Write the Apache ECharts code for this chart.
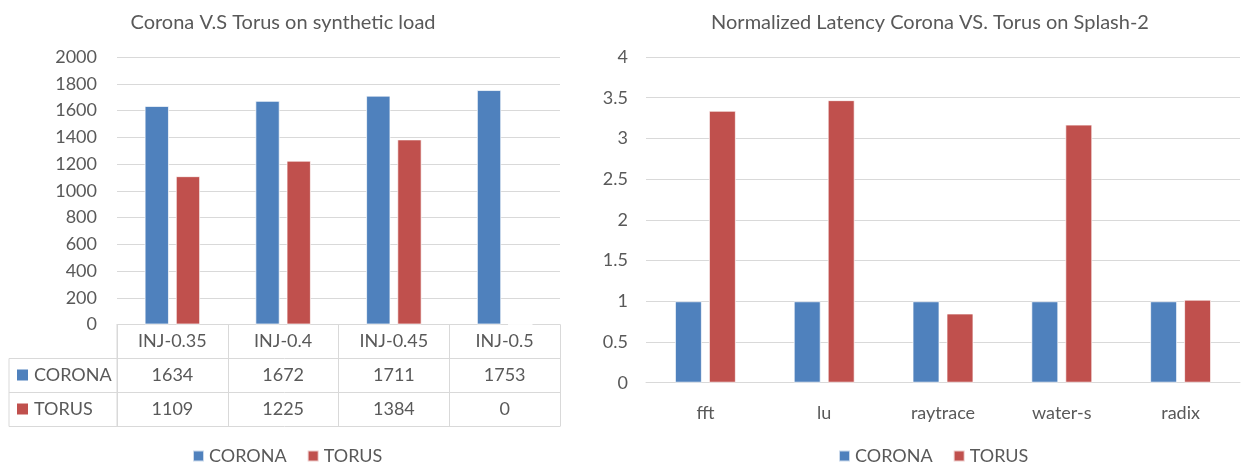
<!DOCTYPE html>
<html><head><meta charset="utf-8">
<script src="https://cdn.jsdelivr.net/npm/echarts@6/dist/echarts.min.js"></script>
<style>html,body{margin:0;padding:0;background:#fff}#c{width:1245px;height:463px}</style>
</head><body><div id="c"></div>
<script>
// ---- data ----
const seriesNames = ['CORONA', 'TORUS'];
const synthCategories = ['INJ-0.35', 'INJ-0.4', 'INJ-0.45', 'INJ-0.5'];
const synthCorona = [1634, 1672, 1711, 1753];
const synthTorus = [1109, 1225, 1384, 0];
const synthTicks = [0, 200, 400, 600, 800, 1000, 1200, 1400, 1600, 1800, 2000];
const splashCategories = ['fft', 'lu', 'raytrace', 'water-s', 'radix'];
const splashCorona = [1, 1, 1, 1, 1];
const splashTorus = [3.34, 3.47, 0.85, 3.17, 1.02];
const splashTicks = [0, 0.5, 1, 1.5, 2, 2.5, 3, 3.5, 4];
const titles = ['Corona V.S Torus on synthetic load', 'Normalized Latency Corona VS. Torus on Splash-2'];

// ---- style / layout ----
const BLUE = '#4F81BD', RED = '#C0504D', TXT = '#595959', GRID = '#D9D9D9';
const FONT = 'Lato';
const g0 = {left: 117, right: 560, top: 57, bottom: 324.5};
const g1 = {left: 646, right: 1240, top: 57, bottom: 382.7};
const rowH = 34, tableLeft = 9;

const chart = echarts.init(document.getElementById('c'), null, {renderer: 'canvas'});

const barStyle = c => ({color: c, borderColor: 'rgba(255,255,255,0.7)', borderWidth: 1});
const axisLabel = {color: TXT, fontFamily: FONT, fontSize: 18};

// table graphics (lines + row headers)
const graphics = [];
const lineStyle = {stroke: GRID, lineWidth: 1};
for (let r = 1; r <= 3; r++) {
  const y = g0.bottom + r * rowH;
  graphics.push({type: 'line', shape: {x1: tableLeft, y1: y, x2: g0.right, y2: y}, style: lineStyle, silent: true});
}
graphics.push({type: 'line', shape: {x1: tableLeft, y1: g0.bottom + rowH, x2: tableLeft, y2: g0.bottom + 3 * rowH}, style: lineStyle, silent: true});
graphics.push({type: 'line', shape: {x1: g0.left, y1: g0.bottom, x2: g0.left, y2: g0.bottom + 3 * rowH}, style: lineStyle, silent: true});
[BLUE, RED].forEach((c, i) => {
  const cy = g0.bottom + rowH * (i + 1.5);
  graphics.push({type: 'rect', shape: {x: 17, y: cy - 6, width: 11, height: 11}, style: {fill: c}, silent: true});
  graphics.push({type: 'text', x: 34, y: cy, style: {text: seriesNames[i], fill: TXT, font: '18px ' + FONT, textVerticalAlign: 'middle', textAlign: 'left'}, silent: true});
});

const titleStyle = {color: TXT, fontFamily: FONT, fontSize: 20, fontWeight: 'normal'};
const legendBase = {data: seriesNames, top: 442, itemWidth: 11, itemHeight: 11, itemGap: 20, itemTextGap: 6,
  icon: 'rect', textStyle: {color: TXT, fontFamily: FONT, fontSize: 18}};

const option = {
  animation: false,
  textStyle: {fontFamily: FONT},
  title: [
    {text: titles[0], left: 278, top: 8, textAlign: 'center', textStyle: titleStyle},
    {text: titles[1], left: 925, top: 8, textAlign: 'center', textStyle: titleStyle}
  ],
  legend: [
    Object.assign({left: 187}, legendBase),
    Object.assign({left: 833}, legendBase)
  ],
  grid: [
    {left: g0.left, width: g0.right - g0.left, top: g0.top, height: g0.bottom - g0.top},
    {left: g1.left, width: g1.right - g1.left, top: g1.top, height: g1.bottom - g1.top}
  ],
  xAxis: [
    {type: 'category', gridIndex: 0, data: synthCategories,
     axisLine: {show: true, lineStyle: {color: GRID}},
     axisTick: {show: true, length: 3 * rowH, lineStyle: {color: GRID}},
     axisLabel: Object.assign({}, axisLabel, {margin: 0, lineHeight: rowH, interval: 0,
       formatter: (v, i) => v + '\n' + synthCorona[i] + '\n' + synthTorus[i]})},
    {type: 'category', gridIndex: 1, data: splashCategories,
     axisLine: {show: true, lineStyle: {color: GRID}},
     axisTick: {show: false},
     axisLabel: Object.assign({}, axisLabel, {margin: 21, interval: 0})}
  ],
  yAxis: [
    {type: 'value', gridIndex: 0, min: synthTicks[0], max: synthTicks[synthTicks.length - 1], interval: synthTicks[1] - synthTicks[0],
     axisLine: {show: false}, axisTick: {show: false},
     splitLine: {lineStyle: {color: GRID, width: 1}},
     axisLabel: Object.assign({}, axisLabel, {margin: 20, formatter: v => String(v)})},
    {type: 'value', gridIndex: 1, min: splashTicks[0], max: splashTicks[splashTicks.length - 1], interval: splashTicks[1] - splashTicks[0],
     axisLine: {show: false}, axisTick: {show: false},
     splitLine: {lineStyle: {color: GRID, width: 1}},
     axisLabel: Object.assign({}, axisLabel, {margin: 18, formatter: v => String(v)})}
  ],
  series: [
    {name: seriesNames[0], type: 'bar', xAxisIndex: 0, yAxisIndex: 0, data: synthCorona, barWidth: '22%', barGap: '28%', itemStyle: barStyle(BLUE)},
    {name: seriesNames[1], type: 'bar', xAxisIndex: 0, yAxisIndex: 0, data: synthTorus, barWidth: '22%', barGap: '28%', itemStyle: barStyle(RED)},
    {name: seriesNames[0], type: 'bar', xAxisIndex: 1, yAxisIndex: 1, data: splashCorona, barWidth: '22.7%', barGap: '26%', itemStyle: barStyle(BLUE)},
    {name: seriesNames[1], type: 'bar', xAxisIndex: 1, yAxisIndex: 1, data: splashTorus, barWidth: '22.7%', barGap: '26%', itemStyle: barStyle(RED)}
  ],
  graphic: graphics
};
chart.setOption(option);
</script></body></html>
